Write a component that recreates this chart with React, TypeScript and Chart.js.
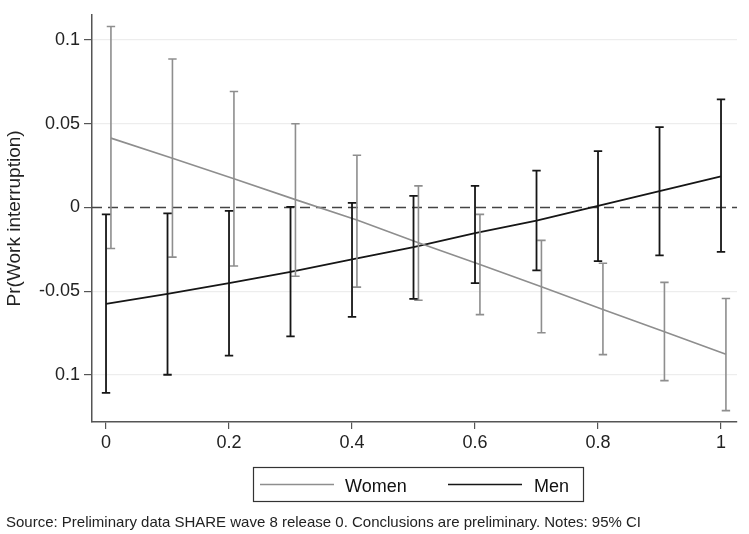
import { useEffect, useRef } from "react";
import { Chart, registerables } from "chart.js";

Chart.register(...registerables);

// ---- data ----
const xValues = [0, 0.1, 0.2, 0.3, 0.4, 0.5, 0.6, 0.7, 0.8, 0.9, 1];
const womenMean = [0.0414, 0.0294, 0.0171, 0.0047, -0.0075, -0.021, -0.034, -0.0473, -0.0608, -0.0741, -0.0875];
const womenLow = [-0.0245, -0.0296, -0.0349, -0.041, -0.0475, -0.0553, -0.0639, -0.0747, -0.0878, -0.1033, -0.1212];
const womenHigh = [0.108, 0.0886, 0.0692, 0.05, 0.0312, 0.0129, -0.0041, -0.0196, -0.0333, -0.0447, -0.0543];
const menMean = [-0.0575, -0.0516, -0.0451, -0.0384, -0.031, -0.0237, -0.0153, -0.0078, 0.001, 0.0098, 0.0186];
const menLow = [-0.1106, -0.0998, -0.0884, -0.0769, -0.0653, -0.0545, -0.0451, -0.0375, -0.032, -0.0286, -0.0265];
const menHigh = [-0.0041, -0.0035, -0.002, 0.0004, 0.0028, 0.0069, 0.0129, 0.022, 0.0337, 0.048, 0.0645];
const xTicks = [0, 0.2, 0.4, 0.6, 0.8, 1];
const xTickLabels = ["0", "0.2", "0.4", "0.6", "0.8", "1"];
const yTicks = [-0.1, -0.05, 0, 0.05, 0.1];
const yTickLabels = ["0.1", "-0.05", "0", "0.05", "0.1"];
const seriesLabels = ["Women", "Men"];
const yTitle = "Pr(Work interruption)";
const caption = "Source: Preliminary data SHARE wave 8 release 0. Conclusions are preliminary. Notes: 95% CI";

// ---- style ----
const WOMEN_SHIFT = 0.008;
const WOMEN_COLOR = "#8e8e8e";
const MEN_COLOR = "#161616";
const FONT = "'Liberation Sans', Arial, sans-serif";

const errorBarPlugin = {
  id: "errorBars",
  beforeDatasetsDraw(chart: any) {
    const { ctx, chartArea, scales } = chart;
    const y0 = scales.y.getPixelForValue(0);
    ctx.save();
    ctx.strokeStyle = "#444";
    ctx.lineWidth = 1.3;
    ctx.setLineDash([10, 6]);
    ctx.beginPath();
    ctx.moveTo(chartArea.left, y0);
    ctx.lineTo(chartArea.right, y0);
    ctx.stroke();
    ctx.restore();
  },
  afterDatasetsDraw(chart: any) {
    const { ctx, scales } = chart;
    chart.data.datasets.forEach((ds: any) => {
      ctx.save();
      ctx.strokeStyle = ds.borderColor;
      ctx.lineWidth = ds.barWidth;
      ds.data.forEach((p: any) => {
        const x = scales.x.getPixelForValue(p.x);
        const yl = scales.y.getPixelForValue(p.lo);
        const yh = scales.y.getPixelForValue(p.hi);
        ctx.beginPath();
        ctx.moveTo(x, yl);
        ctx.lineTo(x, yh);
        ctx.moveTo(x - 4.2, yl);
        ctx.lineTo(x + 4.2, yl);
        ctx.moveTo(x - 4.2, yh);
        ctx.lineTo(x + 4.2, yh);
        ctx.stroke();
      });
      ctx.restore();
    });
  },
  afterDraw(chart: any) {
    const { ctx } = chart;
    ctx.save();
    // legend box
    ctx.strokeStyle = "#333";
    ctx.lineWidth = 1.2;
    ctx.strokeRect(253.5, 467.5, 330, 34);
    const ly = 484.5;
    ctx.lineWidth = 1.6;
    ctx.strokeStyle = WOMEN_COLOR;
    ctx.beginPath();
    ctx.moveTo(260, ly);
    ctx.lineTo(334, ly);
    ctx.stroke();
    ctx.strokeStyle = MEN_COLOR;
    ctx.beginPath();
    ctx.moveTo(448, ly);
    ctx.lineTo(522, ly);
    ctx.stroke();
    ctx.fillStyle = "#111";
    ctx.font = `18px ${FONT}`;
    ctx.textBaseline = "alphabetic";
    ctx.textAlign = "left";
    ctx.fillText(seriesLabels[0], 345, 492);
    ctx.fillText(seriesLabels[1], 534, 492);
    // caption
    ctx.font = `15px ${FONT}`;
    ctx.fillStyle = "#222";
    ctx.fillText(caption, 6, 527);
    ctx.restore();
  },
};

export default function App() {
  const ref = useRef<HTMLCanvasElement>(null);
  useEffect(() => {
    if (!ref.current) return;
    const chart = new Chart(ref.current, {
      type: "scatter",
      data: {
        datasets: [
          {
            label: seriesLabels[0],
            data: xValues.map((x, i) => ({ x: x + WOMEN_SHIFT, y: womenMean[i], lo: womenLow[i], hi: womenHigh[i] })),
            showLine: true,
            borderColor: WOMEN_COLOR,
            borderWidth: 1.6,
            pointRadius: 0,
            barWidth: 1.6,
          } as any,
          {
            label: seriesLabels[1],
            data: xValues.map((x, i) => ({ x, y: menMean[i], lo: menLow[i], hi: menHigh[i] })),
            showLine: true,
            borderColor: MEN_COLOR,
            borderWidth: 1.8,
            pointRadius: 0,
            barWidth: 1.8,
          } as any,
        ],
      },
      options: {
        animation: false,
        responsive: false,
        layout: { padding: { top: 8, right: 12, left: 0, bottom: 0 } },
        plugins: { legend: { display: false }, tooltip: { enabled: false } },
        scales: {
          x: {
            type: "linear",
            min: -0.0228,
            max: 1.026,
            afterBuildTicks: (s: any) => {
              s.ticks = xTicks.map((v) => ({ value: v }));
            },
            afterFit: (s: any) => {
              s.height = 112;
            },
            ticks: {
              callback: (_v: any, i: number) => xTickLabels[i],
              font: { family: FONT, size: 18 },
              color: "#222",
              padding: 3,
              maxRotation: 0,
            },
            grid: { drawOnChartArea: false, tickLength: 7, tickColor: "#555", lineWidth: 1.2 },
            border: { color: "#555", width: 1.5 },
          },
          y: {
            type: "linear",
            min: -0.128,
            max: 0.115,
            afterBuildTicks: (s: any) => {
              s.ticks = yTicks.map((v) => ({ value: v }));
            },
            afterFit: (s: any) => {
              s.width = 92;
            },
            ticks: {
              callback: (_v: any, i: number) => yTickLabels[i],
              font: { family: FONT, size: 18 },
              color: "#222",
              padding: 4,
            },
            grid: {
              color: (c: any) => (c.tick && c.tick.value === 0 ? "rgba(0,0,0,0)" : "#ededed"),
              tickColor: "#555",
              tickLength: 8,
              lineWidth: 1.2,
            },
            border: { color: "#555", width: 1.5 },
            title: {
              display: true,
              text: yTitle,
              font: { family: FONT, size: 19 },
              color: "#222",
              padding: { top: 3, bottom: 0 },
            },
          },
        },
      },
      plugins: [errorBarPlugin],
    });
    return () => chart.destroy();
  }, []);
  return (
    <div style={{ position: "absolute", left: 0, top: 0, width: 749, height: 534, background: "#fff" }}>
      <canvas ref={ref} width={749} height={534} style={{ display: "block" }} />
    </div>
  );
}
